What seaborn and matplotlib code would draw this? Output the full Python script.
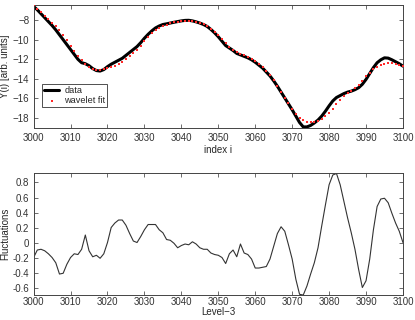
import numpy as np
import pandas as pd
import matplotlib
matplotlib.use("Agg")
import matplotlib.pyplot as plt
import seaborn as sns

index = list(range(3000, 3101))

data_y = [-6.6, -6.95, -7.35, -7.75, -8.15, -8.55, -9.0, -9.5, -10.0, -10.5,
          -11.0, -11.5, -12.0, -12.35, -12.45, -12.65, -12.95, -13.15, -13.2, -13.05,
          -12.75, -12.5, -12.3, -12.1, -11.9, -11.6, -11.3, -11.0, -10.7, -10.3,
          -9.85, -9.45, -9.1, -8.8, -8.6, -8.45, -8.38, -8.3, -8.22, -8.15,
          -8.08, -8.03, -8.02, -8.08, -8.18, -8.3, -8.45, -8.65, -8.95, -9.3,
          -9.7, -10.15, -10.6, -10.85, -11.1, -11.4, -11.55, -11.7, -11.85, -12.05,
          -12.3, -12.6, -12.9, -13.3, -13.7, -14.2, -14.75, -15.35, -15.95, -16.55,
          -17.15, -17.8, -18.45, -18.9, -18.9, -18.75, -18.5, -18.2, -17.8, -17.3,
          -16.75, -16.25, -15.9, -15.7, -15.5, -15.35, -15.25, -15.1, -14.9, -14.55,
          -14.05, -13.45, -12.85, -12.35, -12.05, -11.85, -11.88, -12.05, -12.25, -12.45,
          -12.7]

fit_y = [-6.5, -6.85, -7.2, -7.55, -7.9, -8.25, -8.65, -9.05, -9.55, -10.05,
         -10.6, -11.15, -11.65, -12.1, -12.45, -12.75, -12.95, -13.05, -13.05, -13.0,
         -12.9, -12.8, -12.65, -12.5, -12.3, -12.0, -11.7, -11.35, -11.0, -10.6,
         -10.15, -9.7, -9.35, -9.05, -8.8, -8.6, -8.45, -8.33, -8.24, -8.16,
         -8.1, -8.06, -8.05, -8.1, -8.17, -8.28, -8.42, -8.62, -8.88, -9.2,
         -9.55, -9.95, -10.35, -10.7, -11.0, -11.25, -11.45, -11.6, -11.75, -11.95,
         -12.15, -12.45, -12.8, -13.2, -13.65, -14.15, -14.7, -15.3, -15.9, -16.5,
         -17.05, -17.55, -17.95, -18.2, -18.35, -18.4, -18.35, -18.25, -18.05, -17.8,
         -17.45, -17.05, -16.6, -16.15, -15.75, -15.45, -15.2, -14.95, -14.6, -14.2,
         -13.75, -13.35, -13.0, -12.75, -12.55, -12.45, -12.4, -12.4, -12.45, -12.55,
         -12.7]

fluct = [-0.2, -0.1, -0.09, -0.11, -0.15, -0.2, -0.27, -0.42, -0.41, -0.29,
         -0.2, -0.15, -0.16, -0.09, 0.1, -0.11, -0.19, -0.17, -0.21, -0.15,
         0.0, 0.2, 0.26, 0.3, 0.3, 0.23, 0.12, 0.02, 0.0, 0.08,
         0.17, 0.24, 0.24, 0.24, 0.17, 0.13, 0.04, 0.03, -0.01, -0.07,
         -0.04, -0.02, -0.03, 0.01, -0.02, -0.07, -0.09, -0.09, -0.14, -0.16,
         -0.17, -0.2, -0.28, -0.15, -0.1, -0.19, -0.02, -0.14, -0.16, -0.22,
         -0.34, -0.34, -0.33, -0.32, -0.22, -0.05, 0.12, 0.21, 0.15, -0.03,
         -0.22, -0.49, -0.69, -0.7, -0.58, -0.42, -0.27, -0.07, 0.22, 0.5,
         0.77, 0.9, 0.92, 0.77, 0.55, 0.33, 0.13, -0.09, -0.36, -0.6,
         -0.51, -0.22, 0.17, 0.48, 0.58, 0.59, 0.53, 0.39, 0.26, 0.15,
         0.0]

top_yticks = [-18, -16, -14, -12, -10, -8]
bot_yticks = [-0.6, -0.4, -0.2, 0, 0.2, 0.4, 0.6, 0.8]
xticks = [3000, 3010, 3020, 3030, 3040, 3050, 3060, 3070, 3080, 3090, 3100]

df = pd.DataFrame({"i": index, "data": data_y, "fit": fit_y, "fluct": fluct})

sns.set_theme(style="white")
plt.rcParams['font.family'] = ['Liberation Sans', 'DejaVu Sans']
plt.rcParams['font.size'] = 7

fig = plt.figure(figsize=(4.15, 3.2), dpi=100)
ax1 = fig.add_axes([0.081, 0.601, 0.890, 0.383])
ax2 = fig.add_axes([0.081, 0.078, 0.890, 0.381])

sns.lineplot(data=df, x="i", y="data", ax=ax1, color="black", lw=2.2, label="data")
sns.scatterplot(data=df, x="i", y="fit", ax=ax1, color="#ff2a2a", marker="s", s=3,
                linewidth=0, label="wavelet fit", zorder=3)
ax1.set_xlim(3000, 3100)
ax1.set_ylim(-18.98, -6.47)
ax1.set_yticks(top_yticks)
ax1.set_xticks(xticks)
ax1.set_xlabel("index i", fontsize=7, labelpad=1)
ax1.set_ylabel("Y(i) [arb. units]", fontsize=7, labelpad=2)
leg = ax1.legend(loc="lower left", bbox_to_anchor=(0.024, 0.17), borderaxespad=0,
                 fontsize=6.6, frameon=True, fancybox=False, edgecolor="black",
                 borderpad=0.2, handlelength=1.6, handletextpad=0.6,
                 labelspacing=0.1, markerscale=1.0)
leg.get_frame().set_linewidth(0.6)

sns.lineplot(data=df, x="i", y="fluct", ax=ax2, color="#333333", lw=0.8)
ax2.set_xlim(3000, 3100)
ax2.set_ylim(-0.70, 0.925)
ax2.set_yticks(bot_yticks)
ax2.set_yticklabels([f"{v:g}" if v != 0 else "0" for v in bot_yticks])
ax2.set_xticks(xticks)
ax2.set_xlabel("Level\u22123", fontsize=7, labelpad=0)
ax2.set_ylabel("Fluctuations", fontsize=7, labelpad=2)

for ax in (ax1, ax2):
    for sp in ax.spines.values():
        sp.set_color("#444444")
        sp.set_linewidth(0.7)
    ax.tick_params(direction="in", length=3, width=0.5, top=True, right=True,
                   labelsize=7, colors="#333333", bottom=True, left=True)
    ax.tick_params(axis="y", pad=3)
    ax.grid(False)
ax1.tick_params(axis="x", pad=4)
ax2.tick_params(axis="x", pad=1.5)

fig.savefig("out.png", dpi=100)
